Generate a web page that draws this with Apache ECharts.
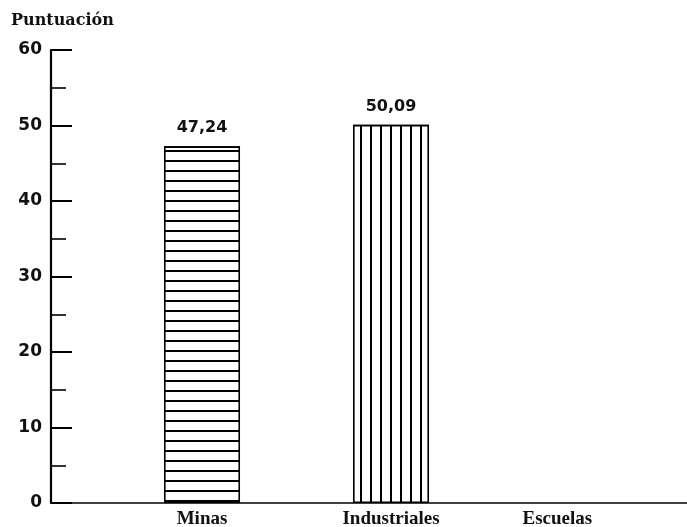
<!DOCTYPE html>
<html>
<head>
<meta charset="utf-8">
<script src="https://cdn.jsdelivr.net/npm/echarts@6/dist/echarts.min.js"></script>
<style>
html,body{margin:0;padding:0;background:#fff;}
#chart{width:687px;height:527px;}
</style>
</head>
<body>
<div id="chart"></div>
<script>
// Data
var categories = ['Minas', 'Industriales', 'Escuelas'];
var categoryPositions = [1, 2, 2.88];
var values = [47.24, 50.09, null];
var yTicks = [0, 10, 20, 30, 40, 50, 60];
var yTitle = 'Puntuación';

var hatches = [
  { symbol: 'rect', symbolSize: 1, dashArrayX: [1, 0], dashArrayY: [1.6, 7.9], color: '#000', backgroundColor: '#fff' },
  { symbol: 'rect', symbolSize: 1, dashArrayX: [1.6, 8], dashArrayY: [1, 0], color: '#000', backgroundColor: '#fff' },
  null
];

var barData = [];
for (var i = 0; i < categories.length; i++) {
  if (values[i] == null) continue;
  barData.push({
    value: [categoryPositions[i], values[i]],
    itemStyle: { color: '#fff', borderColor: '#000', borderWidth: 1.6, decal: hatches[i] }
  });
}

var chart = echarts.init(document.getElementById('chart'), null, { renderer: 'canvas' });
chart.setOption({
  animation: false,
  backgroundColor: '#fff',
  title: {
    text: yTitle, left: 6, top: 8,
    textStyle: { fontFamily: 'DejaVu Serif', fontWeight: 'bold', fontSize: 16, color: '#111' }
  },
  grid: { left: 51, right: 0, top: 50, bottom: 24, containLabel: false, outerBoundsMode: 'none' },
  xAxis: {
    type: 'value',
    min: 0.201, max: 3.566,
    splitLine: { show: false },
    axisTick: { show: false },
    axisLine: { show: true, onZero: false, lineStyle: { color: '#000', width: 1.5 } },
    axisLabel: {
      customValues: categoryPositions,
      formatter: function (v) {
        var idx = categoryPositions.indexOf(v);
        return idx >= 0 ? categories[idx] : '';
      },
      margin: 7,
      fontFamily: 'Liberation Serif', fontWeight: 'bold', fontSize: 19, color: '#111'
    }
  },
  yAxis: {
    type: 'value',
    min: yTicks[0], max: yTicks[yTicks.length - 1], interval: 10,
    splitLine: { show: false },
    axisLine: { show: true, lineStyle: { color: '#000', width: 2.2 } },
    axisTick: { show: true, inside: true, length: 21, lineStyle: { color: '#000', width: 2 } },
    minorTick: { show: true, splitNumber: 2, length: 15, lineStyle: { color: '#000', width: 1.6 } },
    axisLabel: {
      margin: 9,
      fontFamily: 'DejaVu Sans', fontWeight: 'bold', fontSize: 17, color: '#111'
    }
  },
  series: [{
    type: 'bar',
    barWidth: 76,
    data: barData,
    label: {
      show: true, position: 'top', distance: 10,
      fontFamily: 'DejaVu Sans', fontWeight: 'bold', fontSize: 16, color: '#111',
      formatter: function (p) { return p.value[1].toFixed(2).replace('.', ','); }
    }
  }]
});
</script>
</body>
</html>
